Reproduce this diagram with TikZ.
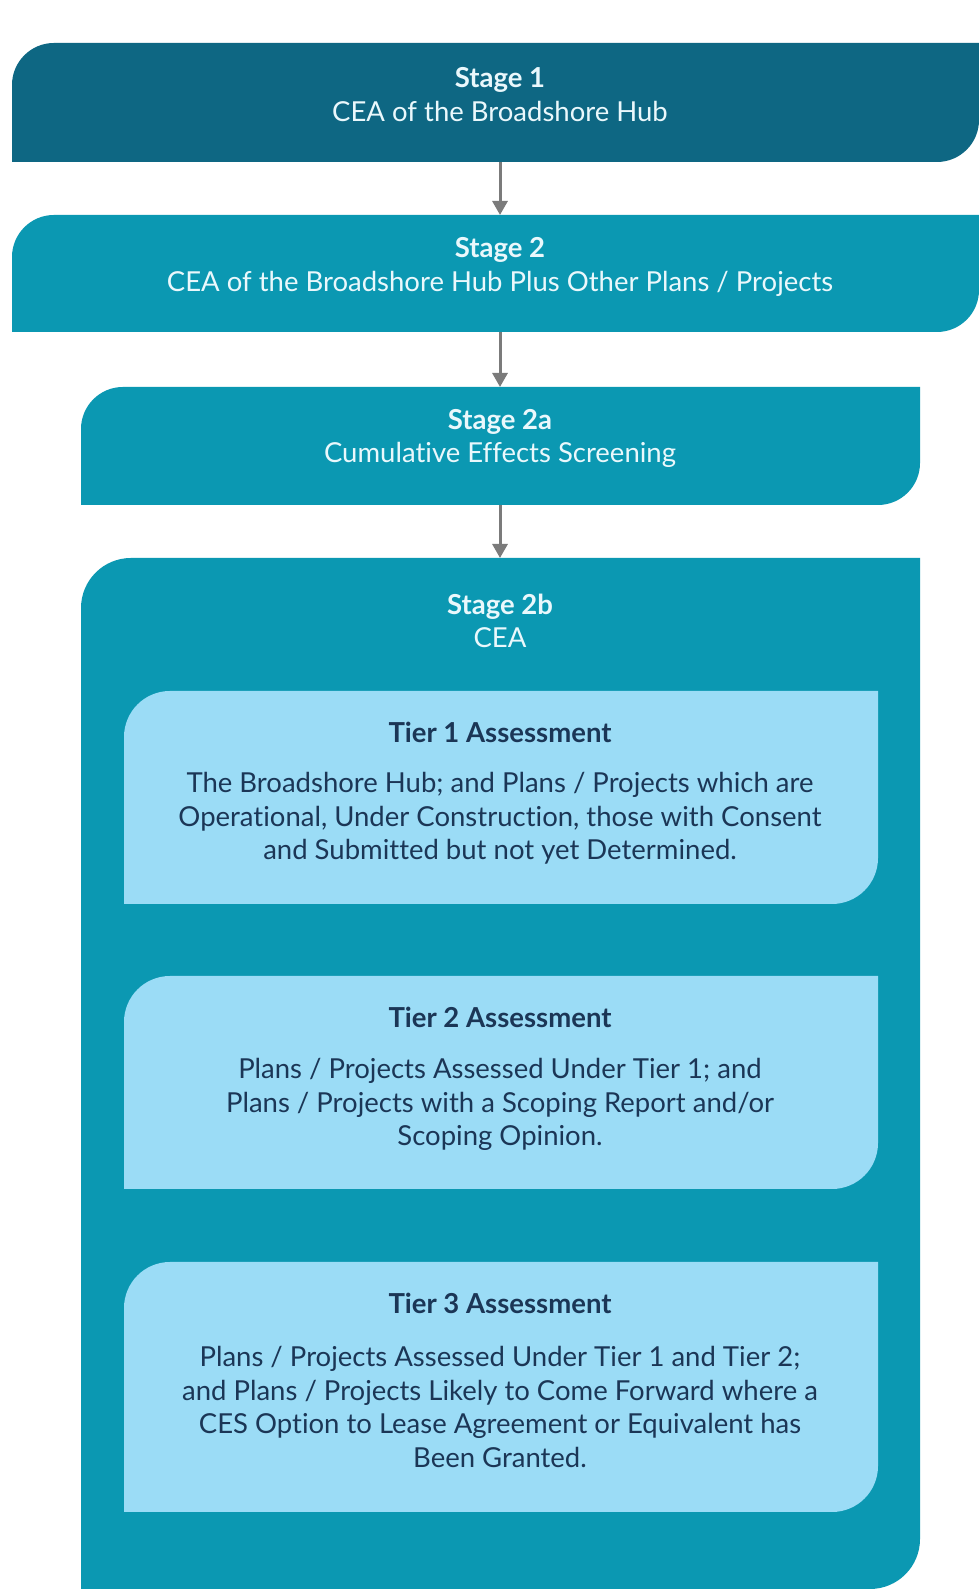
\documentclass[tikz,border=0pt]{standalone}
\usepackage{fontspec}
\setmainfont{Lato}[Ligatures={NoCommon}]
\usetikzlibrary{backgrounds,arrows.meta}
\definecolor{dteal}{HTML}{0E6783}
\definecolor{mteal}{HTML}{0B98B2}
\definecolor{lblue}{HTML}{9BDCF6}
\definecolor{navytxt}{HTML}{1B3656}
\definecolor{stxt}{HTML}{EAF8FC}
\definecolor{agray}{HTML}{7B7B7B}
\newcommand\tabshape[3]{%
  \fill[#3] (#1.south west) -- ([yshift=-#2]#1.north west)
    arc[start angle=180,end angle=90,radius=#2] -- (#1.north east)
    -- ([yshift=#2]#1.south east) arc[start angle=0,end angle=-90,radius=#2] -- cycle;}
\begin{document}
\begin{tikzpicture}[x=1pt,y=1pt,
  box/.style={rectangle,inner sep=0pt,outer sep=0pt},
  sttxt/.style={text=stxt,align=center,font=\fontsize{27.5}{33.5}\selectfont},
  tiertitle/.style={text=navytxt,font=\fontsize{27.5}{33.5}\selectfont\bfseries},
  tiertxt/.style={text=navytxt,align=center,font=\fontsize{27.5}{33.5}\selectfont},
  arr/.style={draw=agray,line width=3pt,-{Triangle[length=14pt,width=15pt]}}]
\useasboundingbox (0,0) rectangle (979,1589);
% shape nodes
\node[box,minimum width=967,minimum height=119] (s1) at (495.5,1486.5) {};
\node[box,minimum width=967,minimum height=117] (s2) at (495.5,1315.5) {};
\node[box,minimum width=839,minimum height=118] (s2a) at (500.5,1143) {};
\node[box,minimum width=839,minimum height=1031] (s2b) at (500.5,515.5) {};
\node[box,minimum width=754,minimum height=213] (t1) at (501,791.5) {};
\node[box,minimum width=754,minimum height=213] (t2) at (501,506.5) {};
\node[box,minimum width=754,minimum height=250] (t3) at (501,202) {};
\begin{scope}[on background layer]
\fill[white] (0,0) rectangle (979,1589);
\tabshape{s1}{42}{dteal}
\tabshape{s2}{42}{mteal}
\tabshape{s2a}{42}{mteal}
\tabshape{s2b}{50}{mteal}
\tabshape{t1}{46}{lblue}
\tabshape{t2}{46}{lblue}
\tabshape{t3}{46}{lblue}
\end{scope}
% texts
\node[sttxt] (s1txt) at (500,1494.2) {\textbf{Stage 1}\\CEA of the Broadshore Hub};
\node[sttxt] (s2txt) at (500,1322) {\textbf{Stage 2}\\CEA of the Broadshore Hub Plus Other Plans / Projects};
\node[sttxt] (s2atxt) at (500,1150.7) {\textbf{Stage 2a}\\Cumulative Effects Screening};
\node[sttxt] (s2btxt) at (500,968.2) {\textbf{Stage 2b}\\CEA};
\node[tiertitle] (t1h) at (500,857) {Tier 1 Assessment};
\node[tiertxt] (t1b) at (500,770.5) {The Broadshore Hub; and Plans / Projects which are\\Operational, Under Construction, those with Consent\\and Submitted but not yet Determined.};
\node[tiertitle] (t2h) at (500,571.5) {Tier 2 Assessment};
\node[tiertxt] (t2b) at (500,484.5) {Plans / Projects Assessed Under Tier 1; and\\Plans / Projects with a Scoping Report and/or\\Scoping Opinion.};
\node[tiertitle] (t3h) at (500,286) {Tier 3 Assessment};
\node[tiertxt] (t3b) at (500,182) {Plans / Projects Assessed Under Tier 1 and Tier 2;\\and Plans / Projects Likely to Come Forward where a\\CES Option to Lease Agreement or Equivalent has\\Been Granted.};
% connectors
\coordinate (ax) at (500,0);
\draw[arr] (s1.south -| ax) -- (s2.north -| ax);
\draw[arr] (s2.south -| ax) -- (s2a.north -| ax);
\draw[arr] (s2a.south -| ax) -- (s2b.north -| ax);
\end{tikzpicture}
\end{document}
